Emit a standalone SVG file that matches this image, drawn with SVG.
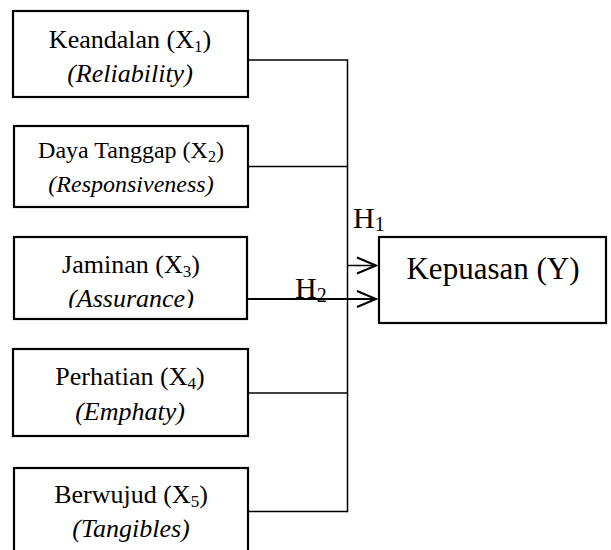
<svg xmlns="http://www.w3.org/2000/svg" width="611" height="550" viewBox="0 0 611 550">
<style>
.box{fill:#fff;stroke:#000;stroke-width:2.2}
.t{font-family:"Liberation Serif","Times New Roman",serif;font-size:26px;fill:#000;text-anchor:middle}
.i{font-style:italic}
.sub{font-size:17px}
.c{fill:none;stroke:#000;stroke-width:1.5}
.a{fill:none;stroke:#000;stroke-width:2}
.h{font-family:"Liberation Serif","Times New Roman",serif;font-size:30px;fill:#000}
</style>
<defs>
<clipPath id="clip3"><rect x="0" y="230" width="260" height="78"/></clipPath>
</defs>
<rect width="611" height="550" fill="#fff"/>
<g id="x1">
<rect class="box" x="13" y="11" width="235" height="86"/>
<text class="t" x="130" y="47.5">Keandalan (X<tspan class="sub" dy="4">1</tspan><tspan dy="-4">)</tspan></text>
<text class="t i" x="130" y="81.5">(Reliability)</text>
</g>
<g id="x2">
<rect class="box" x="14" y="126" width="234" height="81"/>
<text class="t" x="131" y="158" style="font-size:24px">Daya Tanggap (X<tspan class="sub" dy="4" style="font-size:16px">2</tspan><tspan dy="-4">)</tspan></text>
<text class="t i" x="131" y="191.5" style="font-size:24px">(Responsiveness)</text>
</g>
<g id="x3">
<rect class="box" x="14" y="237" width="233" height="82"/>
<text class="t" x="131" y="272.5">Jaminan (X<tspan class="sub" dy="4">3</tspan><tspan dy="-4">)</tspan></text>
<text class="t i" x="131" y="306.5" clip-path="url(#clip3)">(Assurance)</text>
</g>
<g id="x4">
<rect class="box" x="13" y="349" width="235" height="87"/>
<text class="t" x="130" y="385">Perhatian (X<tspan class="sub" dy="4">4</tspan><tspan dy="-4">)</tspan></text>
<text class="t i" x="130" y="420">(Emphaty)</text>
</g>
<g id="x5">
<rect class="box" x="14" y="468" width="234" height="100"/>
<text class="t" x="131" y="503">Berwujud (X<tspan class="sub" dy="4">5</tspan><tspan dy="-4">)</tspan></text>
<text class="t i" x="131" y="536.5">(Tangibles)</text>
</g>
<g id="y">
<rect class="box" x="379" y="237" width="227" height="86"/>
<text class="t" x="493" y="279" style="font-size:31px">Kepuasan (Y)</text>
</g>
<g id="connectors">
<line class="c" x1="247" y1="60" x2="347.5" y2="60"/>
<line class="c" x1="247" y1="166.5" x2="347.5" y2="166.5"/>
<line class="c" x1="247" y1="393" x2="347.5" y2="393"/>
<line class="c" x1="247" y1="511.5" x2="347.5" y2="511.5"/>
<line class="c" x1="347.5" y1="59.3" x2="347.5" y2="512.2"/>
<line class="c" x1="347.5" y1="265.5" x2="376" y2="265.5"/>
<polyline class="a" points="357,257.5 376,265.5 357,273.5"/>
<line class="a" x1="247" y1="299" x2="376" y2="299"/>
<polyline class="a" points="357,291 376,299 357,307"/>
</g>
<g id="labels">
<text class="h" x="353" y="227.5">H<tspan dy="3" style="font-size:20px">1</tspan></text>
<text class="h" x="295" y="298">H<tspan dy="4" style="font-size:20px">2</tspan></text>
</g>
</svg>
